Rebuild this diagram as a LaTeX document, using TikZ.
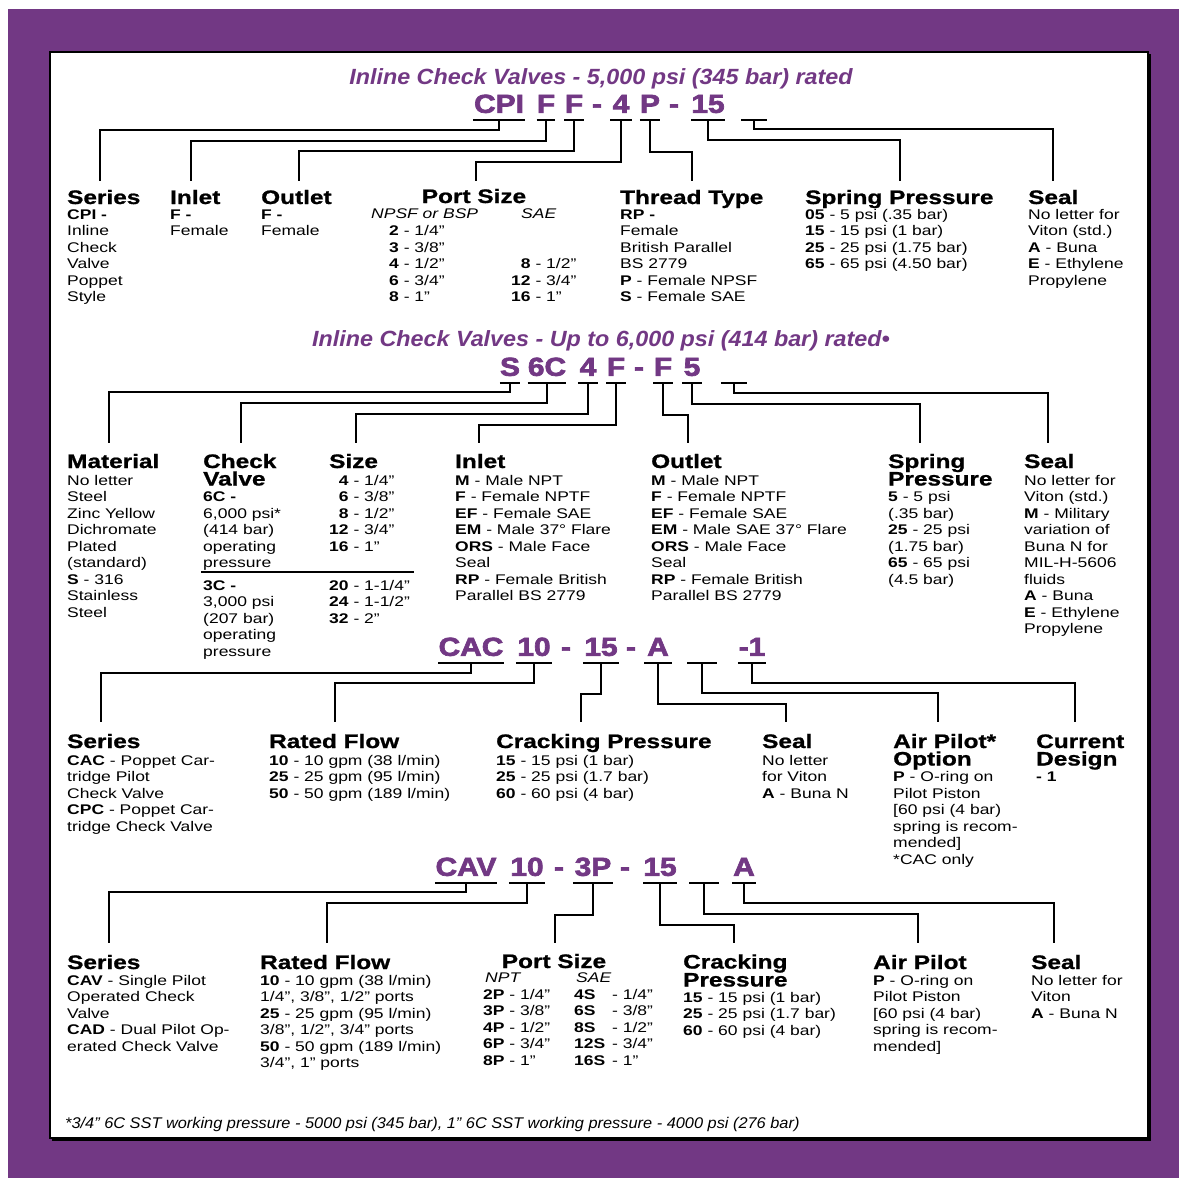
\documentclass[tikz,border=0pt]{standalone}
\usepackage{fontspec}
\setmainfont{Liberation Sans}
\newfontfamily\bodyff{Liberation Sans}[FakeStretch=1.25]
\newfontfamily\hdrff{Liberation Sans}[FakeStretch=1.25, BoldFeatures={FakeBold=1.0}]
\newfontfamily\codeff{Liberation Sans}[FakeStretch=1.15, BoldFeatures={FakeBold=2.6}]
\newfontfamily\titleff{Liberation Sans}[FakeStretch=1.06]
\newfontfamily\footff{Liberation Sans}[FakeStretch=1.055]
\definecolor{vpurple}{RGB}{114,56,132}
\tikzset{
  body/.style={font=\bodyff\fontsize{14}{16}\selectfont, inner sep=0pt, anchor=base west},
  ital/.style={font=\bodyff\fontsize{14}{16}\selectfont\itshape, inner sep=0pt, anchor=base west},
  hdr/.style={font=\hdrff\fontsize{19.5}{18}\selectfont\bfseries, inner sep=0pt, anchor=base west},
  hdrtop/.style={hdr, text depth=0pt},
  ttl/.style={font=\titleff\fontsize{22}{24}\selectfont\bfseries\itshape, text=vpurple, inner sep=0pt, anchor=base},
  tok/.style={font=\codeff\fontsize{26}{28}\selectfont\bfseries, text=vpurple, anchor=south, inner xsep=0pt, inner ysep=7pt, text depth=0pt},
  uline/.style={line width=2.5pt},
  conn/.style={line width=2.5pt},
  foot/.style={font=\footff\fontsize{15.5}{17}\selectfont\itshape, inner sep=0pt, anchor=base west},
}
\newcommand\txtcol[5][body]{\foreach \myitem [count=\myi from 0] in {#5}{\node[#1] (#4-\myi) at ({#2},{#3+16.5*\myi}) {\myitem};}}
\newcommand\tok[5]{\node[tok, minimum width=#4] (#1) at (#2,#3) {#5};
  \draw[uline] (#1.south west) -- (#1.south east);}
\newcommand\conn[5]{\coordinate (#5) at (#3,#4);
  \draw[conn] (#1.south) |- (#3,#2) -- (#5);}
\begin{document}
\begin{tikzpicture}[x=1pt,y=-1pt]
\useasboundingbox (0,0) rectangle (1179,1178);
\fill[vpurple] (8,9) rectangle (1179,1178);
\fill[black] (52,54) rectangle (1151,1141);
\draw[line width=2.5pt, fill=white] (50,52) rectangle (1148,1138);

% ---------------- Section 1
\node[ttl] (title1) at (601,84) {Inline Check Valves - 5,000 psi (345 bar) rated};
\tok{c1a}{499}{120}{52pt}{CPI}
\tok{c1b}{546}{120}{18pt}{F}
\tok{c1c}{574}{120}{19pt}{F}
\node[tok] (c1d) at (597,120) {-};
\tok{c1e}{621}{120}{21pt}{4}
\tok{c1f}{650}{120}{19pt}{P}
\node[tok] (c1g) at (674,120) {-};
\tok{c1h}{708}{120}{33pt}{15}
\tok{c1i}{754}{120}{25pt}{}
\conn{c1a}{130}{100}{181}{e1a}
\conn{c1b}{141}{191}{181}{e1b}
\conn{c1c}{151}{299}{181}{e1c}
\conn{c1e}{162}{476}{181}{e1e}
\conn{c1f}{152}{692}{181}{e1f}
\conn{c1h}{140}{900}{181}{e1h}
\conn{c1i}{129}{1053}{181}{e1i}
\node[hdr] (h1a) at (67,204) {Series};
\node[hdr] (h1b) at (170,204) {Inlet};
\node[hdr] (h1c) at (261,204) {Outlet};
\node[hdr, anchor=base] (h1d) at (474,203) {Port Size};
\node[hdr] (h1e) at (620,204) {Thread Type};
\node[hdr] (h1f) at (805,204) {Spring Pressure};
\node[hdr] (h1g) at (1028,204) {Seal};
\txtcol{67}{219}{b1a}{{\textbf{CPI -}},{Inline},{Check},{Valve},{Poppet},{Style}}
\txtcol{170}{219}{b1b}{{\textbf{F -}},{Female}}
\txtcol{261}{219}{b1c}{{\textbf{F -}},{Female}}
\node[ital] (b1d) at (371,218) {NPSF or BSP};
\node[ital] (b1e) at (521,218) {SAE};
\txtcol{389}{235.5}{b1f}{{\textbf{2} - 1/4”},{\textbf{3} - 3/8”},{\textbf{4} - 1/2”},{\textbf{6} - 3/4”},{\textbf{8} - 1”}}
\txtcol{511}{268.5}{b1g}{{\phantom{\textbf{1}}\textbf{8} - 1/2”},{\textbf{12} - 3/4”},{\textbf{16} - 1”}}
\txtcol{620}{219}{b1h}{{\textbf{RP -}},{Female},{British Parallel},{BS 2779},{\textbf{P} - Female NPSF},{\textbf{S} - Female SAE}}
\txtcol{805}{219}{b1i}{{\textbf{05} - 5 psi (.35 bar)},{\textbf{15} - 15 psi (1 bar)},{\textbf{25} - 25 psi (1.75 bar)},{\textbf{65} - 65 psi (4.50 bar)}}
\txtcol{1028}{219}{b1j}{{No letter for},{Viton (std.)},{\textbf{A} - Buna},{\textbf{E} - Ethylene},{Propylene}}

% ---------------- Section 2
\node[ttl] (title2) at (601,346) {Inline Check Valves - Up to 6,000 psi (414 bar) rated•};
\tok{c2a}{510}{383}{20pt}{S}
\tok{c2b}{547}{383}{36pt}{6C}
\tok{c2c}{588}{383}{20pt}{4}
\tok{c2d}{616}{383}{19pt}{F}
\node[tok] (c2e) at (639,383) {-};
\tok{c2f}{663}{383}{19pt}{F}
\tok{c2g}{692}{383}{20pt}{5}
\tok{c2h}{734}{383}{26pt}{}
\conn{c2a}{392}{109}{443}{e2a}
\conn{c2b}{403}{241}{443}{e2b}
\conn{c2c}{414}{356}{443}{e2c}
\conn{c2d}{425}{479}{443}{e2d}
\conn{c2f}{415}{688}{443}{e2f}
\conn{c2g}{404}{920}{443}{e2g}
\conn{c2h}{393}{1048}{443}{e2h}
\node[hdr] (h2a) at (67,468) {Material};
\node[hdrtop] (h2b) at (203,468) {Check};
\node[hdr] (h2c) at (203,485.5) {Valve};
\node[hdr] (h2d) at (329,468) {Size};
\node[hdr] (h2e) at (455,468) {Inlet};
\node[hdr] (h2f) at (651,468) {Outlet};
\node[hdrtop] (h2g) at (888,468) {Spring};
\node[hdr] (h2h) at (888,485.5) {Pressure};
\node[hdr] (h2i) at (1024,468) {Seal};
\txtcol{67}{485}{b2a}{{No letter},{Steel},{Zinc Yellow},{Dichromate},{Plated},{(standard)},{\textbf{S} - 316},{Stainless},{Steel}}
\txtcol{203}{501.5}{b2b}{{\textbf{6C -}},{6,000 psi*},{(414 bar)},{operating},{pressure}}
\draw[line width=2pt] (201,572) -- (414,572);
\txtcol{203}{590}{b2c}{{\textbf{3C -}},{3,000 psi},{(207 bar)},{operating},{pressure}}
\txtcol{329}{485}{b2d}{{\phantom{\textbf{1}}\textbf{4} - 1/4”},{\phantom{\textbf{1}}\textbf{6} - 3/8”},{\phantom{\textbf{1}}\textbf{8} - 1/2”},{\textbf{12} - 3/4”},{\textbf{16} - 1”}}
\txtcol{329}{590}{b2e}{{\textbf{20} - 1-1/4”},{\textbf{24} - 1-1/2”},{\textbf{32} - 2”}}
\txtcol{455}{485}{b2f}{{\textbf{M} - Male NPT},{\textbf{F} - Female NPTF},{\textbf{EF} - Female SAE},{\textbf{EM} - Male 37° Flare},{\textbf{ORS} - Male Face},{Seal},{\textbf{RP} - Female British},{Parallel BS 2779}}
\txtcol{651}{485}{b2g}{{\textbf{M} - Male NPT},{\textbf{F} - Female NPTF},{\textbf{EF} - Female SAE},{\textbf{EM} - Male SAE 37° Flare},{\textbf{ORS} - Male Face},{Seal},{\textbf{RP} - Female British},{Parallel BS 2779}}
\txtcol{888}{501.5}{b2h}{{\textbf{5} - 5 psi},{(.35 bar)},{\textbf{25} - 25 psi},{(1.75 bar)},{\textbf{65} - 65 psi},{(4.5 bar)}}
\txtcol{1024}{485}{b2i}{{No letter for},{Viton (std.)},{\textbf{M} - Military},{variation of},{Buna N for},{MIL-H-5606},{fluids},{\textbf{A} - Buna},{\textbf{E} - Ethylene},{Propylene}}

% ---------------- Section 3
\tok{c3a}{471}{663}{62pt}{CAC}
\tok{c3b}{534}{663}{36pt}{10}
\node[tok] (c3c) at (566,663) {-};
\tok{c3d}{601}{663}{36pt}{15}
\node[tok] (c3e) at (631,663) {-};
\tok{c3f}{658}{663}{27pt}{A}
\tok{c3g}{702}{663}{29pt}{}
\tok{c3h}{752}{663}{28pt}{-1}
\conn{c3a}{673}{101}{722}{e3a}
\conn{c3b}{683}{335}{722}{e3b}
\conn{c3d}{694}{581}{722}{e3d}
\conn{c3f}{704}{786}{722}{e3f}
\conn{c3g}{693}{938}{722}{e3g}
\conn{c3h}{683}{1075}{722}{e3h}
\node[hdr] (h3a) at (67,748) {Series};
\node[hdr] (h3b) at (269,748) {Rated Flow};
\node[hdr] (h3c) at (496,748) {Cracking Pressure};
\node[hdr] (h3d) at (762,748) {Seal};
\node[hdrtop] (h3e) at (893,748) {Air Pilot*};
\node[hdr] (h3f) at (893,765.5) {Option};
\node[hdrtop] (h3g) at (1036,748) {Current};
\node[hdr] (h3h) at (1036,765.5) {Design};
\txtcol{67}{765}{b3a}{{\textbf{CAC} - Poppet Car-},{tridge Pilot},{Check Valve},{\textbf{CPC} - Poppet Car-},{tridge Check Valve}}
\txtcol{269}{765}{b3b}{{\textbf{10} - 10 gpm (38 l/min)},{\textbf{25} - 25 gpm (95 l/min)},{\textbf{50} - 50 gpm (189 l/min)}}
\txtcol{496}{765}{b3c}{{\textbf{15} - 15 psi (1 bar)},{\textbf{25} - 25 psi (1.7 bar)},{\textbf{60} - 60 psi (4 bar)}}
\txtcol{762}{765}{b3d}{{No letter},{for Viton},{\textbf{A} - Buna N}}
\txtcol{893}{781.5}{b3e}{{\textbf{P} - O-ring on},{Pilot Piston},{[60 psi (4 bar)},{spring is recom-},{mended]},{*CAC only}}
\txtcol{1036}{781.5}{b3f}{{\textbf{- 1}}}

% ---------------- Section 4
\tok{c4a}{466}{883}{62pt}{CAV}
\tok{c4b}{527}{883}{36pt}{10}
\node[tok] (c4c) at (559,883) {-};
\tok{c4d}{593}{883}{40pt}{3P}
\node[tok] (c4e) at (625,883) {-};
\tok{c4f}{660}{883}{33pt}{15}
\tok{c4g}{704}{883}{29pt}{}
\tok{c4h}{744}{883}{24pt}{A}
\conn{c4a}{892}{109}{943}{e4a}
\conn{c4b}{903}{327}{943}{e4b}
\conn{c4d}{915}{555}{943}{e4d}
\conn{c4f}{925}{734}{943}{e4f}
\conn{c4g}{914}{918}{943}{e4g}
\conn{c4h}{903}{1054}{943}{e4h}
\node[hdr] (h4a) at (67,969) {Series};
\node[hdr] (h4b) at (260,969) {Rated Flow};
\node[hdrtop, anchor=base] (h4c) at (554,968) {Port Size};
\node[hdrtop] (h4d) at (683,968.5) {Cracking};
\node[hdr] (h4e) at (683,986.5) {Pressure};
\node[hdr] (h4f) at (873,969) {Air Pilot};
\node[hdr] (h4g) at (1031,969) {Seal};
\txtcol{67}{985}{b4a}{{\textbf{CAV} - Single Pilot},{Operated Check},{Valve},{\textbf{CAD} - Dual Pilot Op-},{erated Check Valve}}
\txtcol{260}{985}{b4b}{{\textbf{10} - 10 gpm (38 l/min)},{1/4”, 3/8”, 1/2” ports},{\textbf{25} - 25 gpm (95 l/min)},{3/8”, 1/2”, 3/4” ports},{\textbf{50} - 50 gpm (189 l/min)},{3/4”, 1” ports}}
\node[ital] (b4c) at (485,982) {NPT};
\node[ital] (b4d) at (576,982) {SAE};
\txtcol{483}{999}{b4e}{{\textbf{2P} - 1/4”},{\textbf{3P} - 3/8”},{\textbf{4P} - 1/2”},{\textbf{6P} - 3/4”},{\textbf{8P} - 1”}}
\txtcol{574}{999}{b4f}{{\textbf{4S}},{\textbf{6S}},{\textbf{8S}},{\textbf{12S}},{\textbf{16S}}}
\txtcol{612}{999}{b4g}{{- 1/4”},{- 3/8”},{- 1/2”},{- 3/4”},{- 1”}}
\txtcol{683}{1002}{b4h}{{\textbf{15} - 15 psi (1 bar)},{\textbf{25} - 25 psi (1.7 bar)},{\textbf{60} - 60 psi (4 bar)}}
\txtcol{873}{985}{b4i}{{\textbf{P} - O-ring on},{Pilot Piston},{[60 psi (4 bar)},{spring is recom-},{mended]}}
\txtcol{1031}{985}{b4j}{{No letter for},{Viton},{\textbf{A} - Buna N}}

\node[foot] (foot) at (65,1128) {*3/4” 6C SST working pressure - 5000 psi (345 bar), 1” 6C SST working pressure - 4000 psi (276 bar)};
\end{tikzpicture}
\end{document}
